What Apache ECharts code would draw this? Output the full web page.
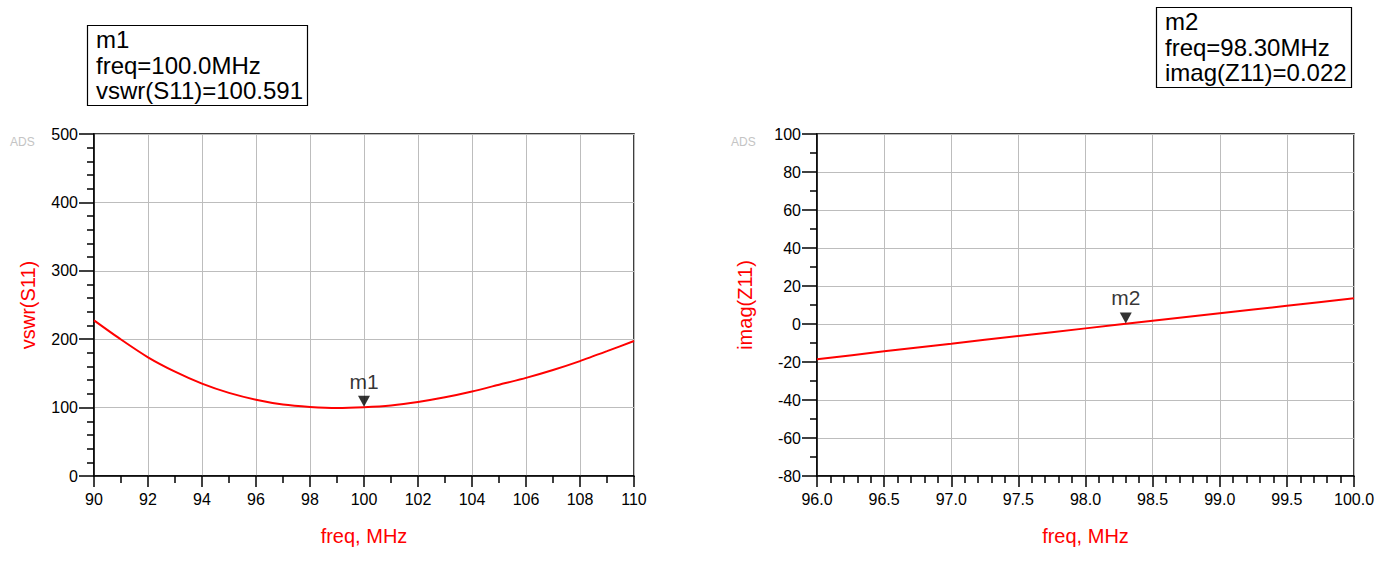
<!DOCTYPE html>
<html>
<head>
<meta charset="utf-8">
<script src="https://cdn.jsdelivr.net/npm/echarts@6/dist/echarts.min.js"></script>
<style>
html,body{margin:0;padding:0;background:#fff;}
#c{width:1397px;height:581px;}
</style>
</head>
<body>
<div id="c"></div>
<script>
// ---- data ----
const vswrFreq = [90,91,92,93,94,95,96,97,98,99,100,101,102,103,104,105,106,107,108,109,110];
const vswrValues = [227.6,199.5,173.5,152.5,135,121.5,111.5,104.5,101.0,99.4,100.591,103.2,108.2,115,123.5,133.5,143.5,155,168,182.5,197.4];
const zFreq = [96.0,96.5,97.0,97.5,98.0,98.5,99.0,99.5,100.0];
const zImag = [-18.6,-14.4,-10.4,-6.3,-2.3,1.7,5.6,9.6,13.5];
const marker1 = {name:'m1', freq:100.0, value:100.591};
const marker2 = {name:'m2', freq:98.30, value:0.022};
const box1Lines = ['m1','freq=100.0MHz','vswr(S11)=100.591'];
const box2Lines = ['m2','freq=98.30MHz','imag(Z11)=0.022'];
const leftYName = 'vswr(S11)';
const rightYName = 'imag(Z11)';
const xName = 'freq, MHz';

const FONT = '"Liberation Sans", Arial, sans-serif';
const chart = echarts.init(document.getElementById('c'), null, {renderer:'svg'});

function xAxisCfg(idx, min, max, interval, minorSplit, fmt){
  return {
    type:'value', gridIndex:idx, min:min, max:max, interval:interval,
    name:xName, nameLocation:'middle', nameGap:50,
    nameTextStyle:{color:'#ff0000', fontSize:20, fontFamily:FONT},
    axisLine:{show:true, onZero:false, lineStyle:{color:'#000', width:1.5}},
    axisTick:{show:true, length:11, lineStyle:{color:'#000', width:1.5}},
    minorTick:{show:true, splitNumber:minorSplit, length:7, lineStyle:{color:'#000', width:1.5}},
    axisLabel:{color:'#000', fontSize:16, fontFamily:FONT, margin:15, formatter:fmt},
    splitLine:{show:true, lineStyle:{color:'#bdbdbd', width:1}}
  };
}
function yAxisCfg(idx, min, max, interval, minorSplit, name, gap){
  return {
    type:'value', gridIndex:idx, min:min, max:max, interval:interval,
    name:name, nameLocation:'middle', nameGap:gap, nameRotate:90,
    nameTextStyle:{color:'#ff0000', fontSize:20, fontFamily:FONT},
    axisLine:{show:true, onZero:false, lineStyle:{color:'#000', width:1.5}},
    axisTick:{show:true, length:15, lineStyle:{color:'#000', width:1.5}},
    minorTick:{show:true, splitNumber:minorSplit, length:7, lineStyle:{color:'#000', width:1.5}},
    axisLabel:{color:'#000', fontSize:16, fontFamily:FONT, margin:16},
    splitLine:{show:true, lineStyle:{color:'#bdbdbd', width:1}}
  };
}
function markerSeries(xi, yi, m){
  return {
    type:'scatter', xAxisIndex:xi, yAxisIndex:yi,
    data:[[m.freq, m.value]],
    symbol:'triangle', symbolRotate:180, symbolSize:[12,11], symbolOffset:[0,-6],
    itemStyle:{color:'#000'},
    label:{show:true, position:'top', distance:4, formatter:m.name, color:'#000', fontSize:21, fontFamily:FONT},
    z:5, silent:true
  };
}
function boxTitle(lines, left, top){
  return {
    text: lines.join('\n'), left:left, top:top,
    borderColor:'#000', borderWidth:1.2, padding:[2,5,2,9],
    textStyle:{color:'#000', fontSize:24, fontWeight:'normal', fontFamily:FONT, lineHeight:25.5}
  };
}

const option = {
  backgroundColor:'#fff',
  animation:false,
  title:[ boxTitle(box1Lines, 87, 25), boxTitle(box2Lines, 1156, 7) ],
  grid:[
    {left:94, top:134, width:540, height:342, show:true, borderColor:'#000', borderWidth:1.5, backgroundColor:'transparent'},
    {left:817, top:134, width:537, height:342, show:true, borderColor:'#000', borderWidth:1.5, backgroundColor:'transparent'}
  ],
  xAxis:[
    xAxisCfg(0, 90, 110, 2, 2, v => String(v)),
    xAxisCfg(1, 96, 100, 0.5, 5, v => v.toFixed(1))
  ],
  yAxis:[
    yAxisCfg(0, 0, 500, 100, 5, leftYName, 56),
    yAxisCfg(1, -80, 100, 20, 2, rightYName, 62)
  ],
  series:[
    {type:'line', xAxisIndex:0, yAxisIndex:0, data:vswrFreq.map((f,i)=>[f, vswrValues[i]]),
     smooth:0.2, showSymbol:false, lineStyle:{color:'#ff0000', width:2}, z:3, silent:true},
    {type:'line', xAxisIndex:1, yAxisIndex:1, data:zFreq.map((f,i)=>[f, zImag[i]]),
     smooth:0.2, showSymbol:false, lineStyle:{color:'#ff0000', width:2}, z:3, silent:true},
    markerSeries(0,0,marker1),
    markerSeries(1,1,marker2)
  ],
  graphic:[
    {type:'text', left:10, top:136, style:{text:'ADS', fill:'#c4c4c4', font:'12px ' + FONT}},
    {type:'text', left:731, top:136, style:{text:'ADS', fill:'#c4c4c4', font:'12px ' + FONT}}
  ]
};
chart.setOption(option);
</script>
</body>
</html>
